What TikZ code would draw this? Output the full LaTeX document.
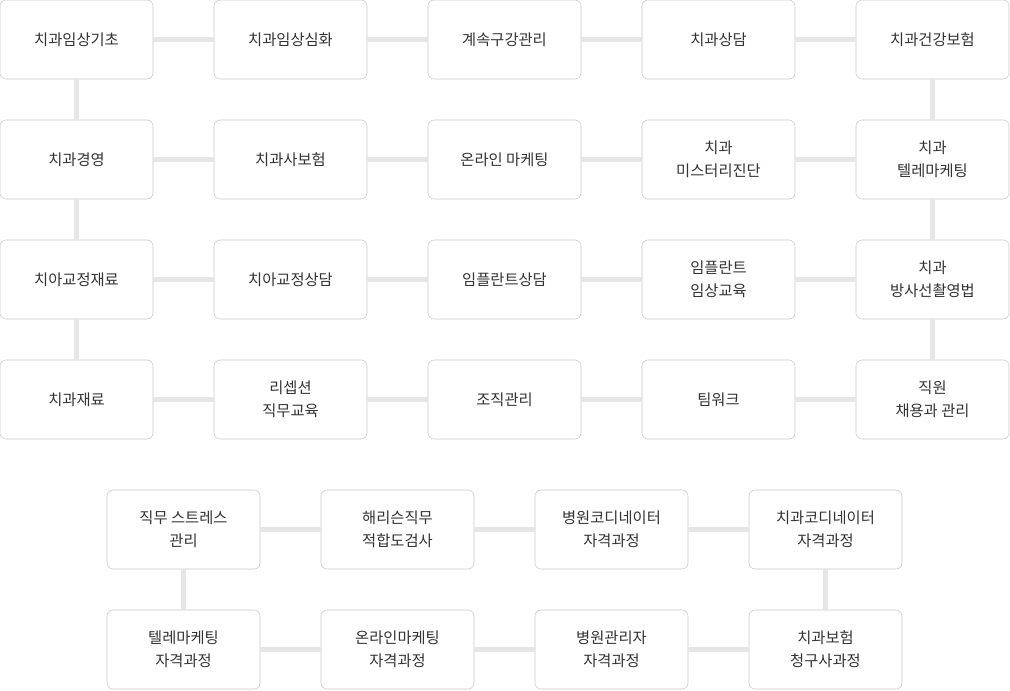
\documentclass[tikz,border=0pt]{standalone}
\usepackage{fontspec}
\setmainfont{Noto Sans CJK KR}
\definecolor{boxline}{HTML}{C8C8C8}
\definecolor{linkline}{HTML}{E6E6E6}
\definecolor{boxtext}{HTML}{333333}

\begin{document}
\begin{tikzpicture}[x=0.75pt,y=-0.75pt,
        course/.style={draw=boxline,fill=white,rounded corners=4.5pt,minimum width=114.75pt,minimum height=59.25pt,align=center,text=boxtext,font=\fontsize{11.5pt}{17.25pt}\selectfont,inner sep=0pt},
        link/.style={draw=linkline,line width=3.75pt}]
        \useasboundingbox (0,0) rectangle (1010,690);
        % top grid
        \node[course] (a1) at (76.5,39.5) {치과임상기초};
        \node[course] (a2) at (290.5,39.5) {치과임상심화};
        \node[course] (a3) at (504.5,39.5) {계속구강관리};
        \node[course] (a4) at (718.5,39.5) {치과상담};
        \node[course] (a5) at (932.5,39.5) {치과건강보험};
        \node[course] (b1) at (76.5,159.5) {치과경영};
        \node[course] (b2) at (290.5,159.5) {치과사보험};
        \node[course] (b3) at (504.5,159.5) {온라인 마케팅};
        \node[course] (b4) at (718.5,159.5) {치과\\미스터리진단};
        \node[course] (b5) at (932.5,159.5) {치과\\텔레마케팅};
        \node[course] (c1) at (76.5,279.5) {치아교정재료};
        \node[course] (c2) at (290.5,279.5) {치아교정상담};
        \node[course] (c3) at (504.5,279.5) {임플란트상담};
        \node[course] (c4) at (718.5,279.5) {임플란트\\임상교육};
        \node[course] (c5) at (932.5,279.5) {치과\\방사선촬영법};
        \node[course] (d1) at (76.5,399.5) {치과재료};
        \node[course] (d2) at (290.5,399.5) {리셉션\\직무교육};
        \node[course] (d3) at (504.5,399.5) {조직관리};
        \node[course] (d4) at (718.5,399.5) {팀워크};
        \node[course] (d5) at (932.5,399.5) {직원\\채용과 관리};
        % bottom grid
        \node[course] (e1) at (183.5,529.5) {직무 스트레스\\관리};
        \node[course] (e2) at (397.5,529.5) {해리슨직무\\적합도검사};
        \node[course] (e3) at (611.5,529.5) {병원코디네이터\\자격과정};
        \node[course] (e4) at (825.5,529.5) {치과코디네이터\\자격과정};
        \node[course] (f1) at (183.5,649.5) {텔레마케팅\\자격과정};
        \node[course] (f2) at (397.5,649.5) {온라인마케팅\\자격과정};
        \node[course] (f3) at (611.5,649.5) {병원관리자\\자격과정};
        \node[course] (f4) at (825.5,649.5) {치과보험\\청구사과정};
        % links
        \draw[link] (a1) -- (a2); \draw[link] (a2) -- (a3); \draw[link] (a3) -- (a4); \draw[link] (a4) -- (a5);
        \draw[link] (b1) -- (b2); \draw[link] (b2) -- (b3); \draw[link] (b3) -- (b4); \draw[link] (b4) -- (b5);
        \draw[link] (c1) -- (c2); \draw[link] (c2) -- (c3); \draw[link] (c3) -- (c4); \draw[link] (c4) -- (c5);
        \draw[link] (d1) -- (d2); \draw[link] (d2) -- (d3); \draw[link] (d3) -- (d4); \draw[link] (d4) -- (d5);
        \draw[link] (a1) -- (b1); \draw[link] (b1) -- (c1); \draw[link] (c1) -- (d1);
        \draw[link] (a5) -- (b5); \draw[link] (b5) -- (c5); \draw[link] (c5) -- (d5);
        \draw[link] (e1) -- (e2); \draw[link] (e2) -- (e3); \draw[link] (e3) -- (e4);
        \draw[link] (f1) -- (f2); \draw[link] (f2) -- (f3); \draw[link] (f3) -- (f4);
        \draw[link] (e1) -- (f1); \draw[link] (e4) -- (f4);
    \end{tikzpicture}
\end{document}
